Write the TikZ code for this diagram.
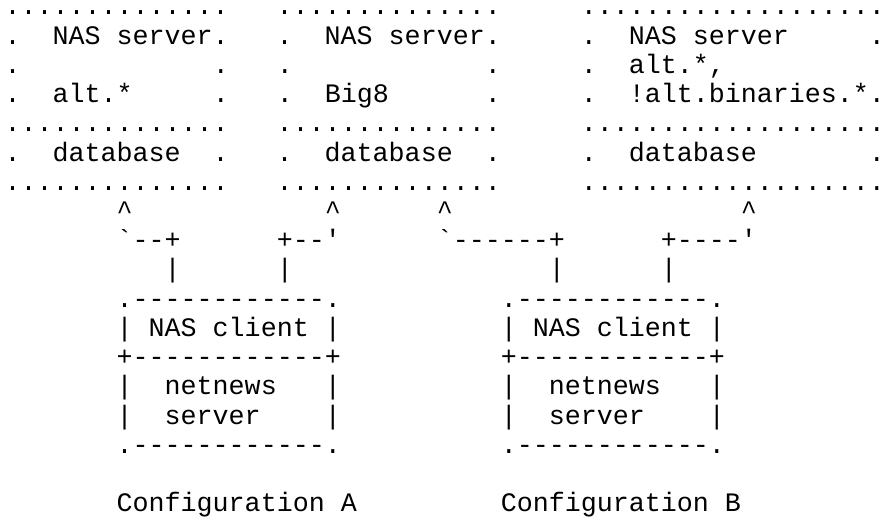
\documentclass[tikz,border=0pt]{standalone}
\usepackage{fontspec}
\setmonofont{Liberation Mono}
\newcommand\gap[1]{\hspace*{\dimexpr #1\fontdimen2\font\relax}}
\tikzset{
  asc/.style={anchor=base west, inner sep=0pt, outer sep=0pt,
    font=\ttfamily\fontsize{26.67}{29.22}\selectfont, text=black},
}
\newcommand\rowy[1]{518-15-29.22*(#1-1)}
\begin{document}
\begin{tikzpicture}[x=1pt,y=1pt]
\fill[white] (0,0) rectangle (879,518);
\useasboundingbox (0,0) rectangle (879,518);
% server boxes
\node[asc] (row1) at (4.7,{\rowy{1}}) {..............\gap{3}..............\gap{5}...................};
\node[asc] (row2) at (4.7,{\rowy{2}}) {.\gap{2}NAS~server.\gap{3}.\gap{2}NAS~server.\gap{5}.\gap{2}NAS~server\gap{5}.};
\node[asc] (row3) at (4.7,{\rowy{3}}) {.\gap{12}.\gap{3}.\gap{12}.\gap{5}.\gap{2}alt.*,\gap{10}.};
\node[asc] (row4) at (4.7,{\rowy{4}}) {.\gap{2}alt.*\gap{5}.\gap{3}.\gap{2}Big8\gap{6}.\gap{5}.\gap{2}!alt.binaries.*.};
\node[asc] (row5) at (4.7,{\rowy{5}}) {..............\gap{3}..............\gap{5}...................};
\node[asc] (row6) at (4.7,{\rowy{6}}) {.\gap{2}database\gap{2}.\gap{3}.\gap{2}database\gap{2}.\gap{5}.\gap{2}database\gap{7}.};
\node[asc] (row7) at (4.7,{\rowy{7}}) {..............\gap{3}..............\gap{5}...................};
% connectors
\node[asc] (row8) at (4.7,{\rowy{8}}) {\gap{7}\textasciicircum\gap{12}\textasciicircum\gap{6}\textasciicircum\gap{18}\textasciicircum};
\node[asc] (row9) at (4.7,{\rowy{9}}) {\gap{7}`--+\gap{6}+--'\gap{6}`------+\gap{6}+----'};
\node[asc] (row10) at (4.7,{\rowy{10}}) {\gap{10}|\gap{6}|\gap{16}|\gap{6}|};
% client boxes
\node[asc] (row11) at (4.7,{\rowy{11}}) {\gap{7}.------------.\gap{10}.------------.};
\node[asc] (row12) at (4.7,{\rowy{12}}) {\gap{7}|~NAS~client~|\gap{10}|~NAS~client~|};
\node[asc] (row13) at (4.7,{\rowy{13}}) {\gap{7}+------------+\gap{10}+------------+};
\node[asc] (row14) at (4.7,{\rowy{14}}) {\gap{7}|\gap{2}netnews\gap{3}|\gap{10}|\gap{2}netnews\gap{3}|};
\node[asc] (row15) at (4.7,{\rowy{15}}) {\gap{7}|\gap{2}server\gap{4}|\gap{10}|\gap{2}server\gap{4}|};
\node[asc] (row16) at (4.7,{\rowy{16}}) {\gap{7}.------------.\gap{10}.------------.};
% captions
\node[asc] (row18) at (4.7,{\rowy{18}}) {\gap{7}Configuration~A\gap{9}Configuration~B};
\end{tikzpicture}
\end{document}
